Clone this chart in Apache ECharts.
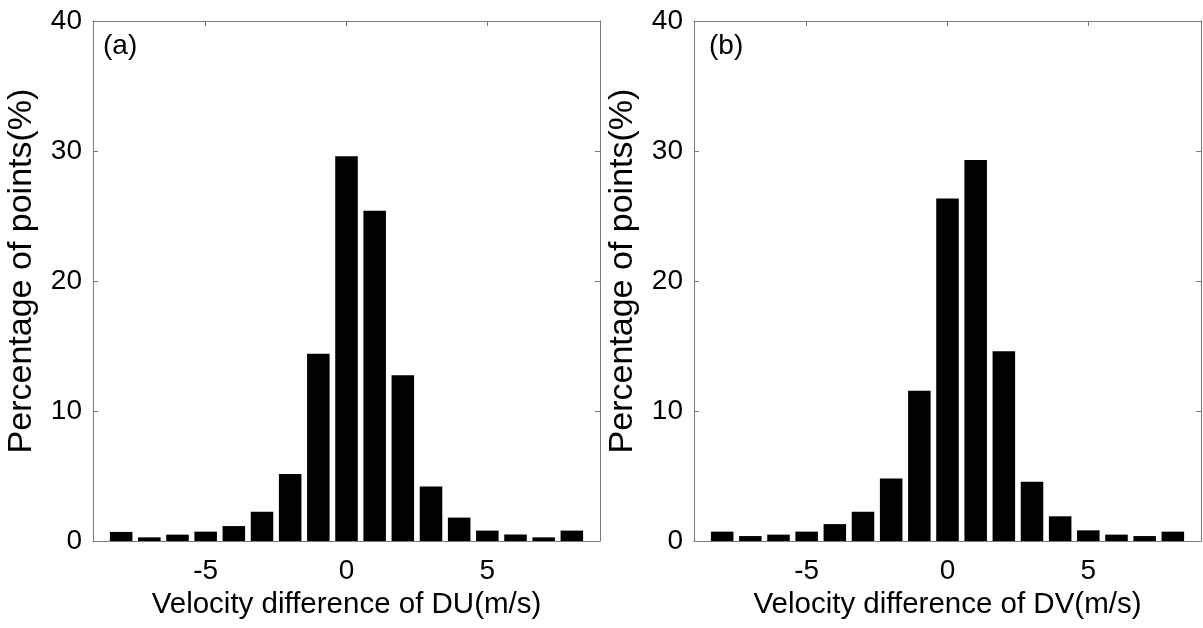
<!DOCTYPE html>
<html>
<head>
<meta charset="utf-8">
<script src="https://cdn.jsdelivr.net/npm/echarts@6/dist/echarts.min.js"></script>
<style>
html,body{margin:0;padding:0;background:#fff;}
#chart{width:1203px;height:628px;}
</style>
</head>
<body>
<div id="chart"></div>
<script>
// Bin centres (m/s)
var binCenters = [-8, -7, -6, -5, -4, -3, -2, -1, 0, 1, 2, 3, 4, 5, 6, 7, 8];
// Percentage of points for DU (panel a)
var duPercent = [0.7, 0.28, 0.49, 0.72, 1.15, 2.25, 5.15, 14.4, 29.6, 25.4, 12.75, 4.2, 1.8, 0.8, 0.5, 0.28, 0.8];
// Percentage of points for DV (panel b)
var dvPercent = [0.72, 0.38, 0.49, 0.72, 1.3, 2.25, 4.8, 11.55, 26.35, 29.3, 14.6, 4.55, 1.9, 0.82, 0.49, 0.38, 0.72];
// Tick labels
var xTicks = [-5, 0, 5];
var yTicks = [0, 10, 20, 30, 40];
var panelLabels = ['(a)', '(b)'];
var xTitles = ['Velocity difference of DU(m/s)', 'Velocity difference of DV(m/s)'];
var yTitle = 'Percentage of points(%)';

var FONT = '"Liberation Sans", Arial, sans-serif';
var AX = '#7a7a7a';

function pairs(xs, ys) { return xs.map(function (x, i) { return [x, ys[i]]; }); }

var grids = [
  { left: 93, top: 21, width: 507, height: 520 },
  { left: 694, top: 21, width: 507, height: 520 }
];

var xAxes = [], yAxes = [], series = [], titles = [];
[duPercent, dvPercent].forEach(function (vals, g) {
  // bottom x axis
  xAxes.push({
    type: 'value', gridIndex: g, min: -9, max: 9, position: 'bottom',
    splitLine: { show: false },
    axisLine: { show: true, onZero: false, lineStyle: { color: AX, width: 1 } },
    axisTick: { show: true, inside: true, length: 5, customValues: xTicks, lineStyle: { color: AX } },
    axisLabel: { show: true, customValues: xTicks, margin: 16, color: '#000', fontSize: 28, fontFamily: FONT },
    name: xTitles[g], nameLocation: 'middle', nameGap: 46,
    nameTextStyle: { color: '#000', fontSize: 29.5, fontFamily: FONT }
  });
  // top x axis (box + ticks)
  xAxes.push({
    type: 'value', gridIndex: g, min: -9, max: 9, position: 'top',
    splitLine: { show: false },
    axisLine: { show: true, onZero: false, lineStyle: { color: AX, width: 1 } },
    axisTick: { show: true, inside: true, length: 5, customValues: xTicks, lineStyle: { color: AX } },
    axisLabel: { show: false }
  });
  // left y axis
  yAxes.push({
    type: 'value', gridIndex: g, min: 0, max: 40, interval: 10, position: 'left',
    splitLine: { show: false },
    axisLine: { show: true, onZero: false, lineStyle: { color: AX, width: 1 } },
    axisTick: { show: true, inside: true, length: 5, lineStyle: { color: AX } },
    axisLabel: { show: true, margin: 11, color: '#000', fontSize: 28, fontFamily: FONT,
      customValues: yTicks },
    name: yTitle, nameLocation: 'middle', nameGap: 54,
    nameTextStyle: { color: '#000', fontSize: 34, fontFamily: FONT, padding: [0, 0, 0, 20] }
  });
  // right y axis (box + ticks)
  yAxes.push({
    type: 'value', gridIndex: g, min: 0, max: 40, interval: 10, position: 'right',
    splitLine: { show: false },
    axisLine: { show: true, onZero: false, lineStyle: { color: AX, width: 1 } },
    axisTick: { show: true, inside: true, length: 5, lineStyle: { color: AX } },
    axisLabel: { show: false }
  });
  series.push({
    type: 'bar', xAxisIndex: g * 2, yAxisIndex: g * 2,
    data: pairs(binCenters, vals),
    barWidth: '80%',
    itemStyle: { color: '#000' },
    emphasis: { disabled: true },
    animation: false,
    z: 1
  });
  titles.push({
    text: panelLabels[g], left: g === 0 ? 103 : 709, top: 32, padding: 0,
    textStyle: { color: '#000', fontSize: 28, fontWeight: 'normal', fontFamily: FONT }
  });
});

var chart = echarts.init(document.getElementById('chart'), null, { renderer: 'canvas' });
chart.setOption({
  backgroundColor: '#fff',
  animation: false,
  title: titles,
  grid: grids,
  xAxis: xAxes,
  yAxis: yAxes,
  series: series
});
</script>
</body>
</html>
